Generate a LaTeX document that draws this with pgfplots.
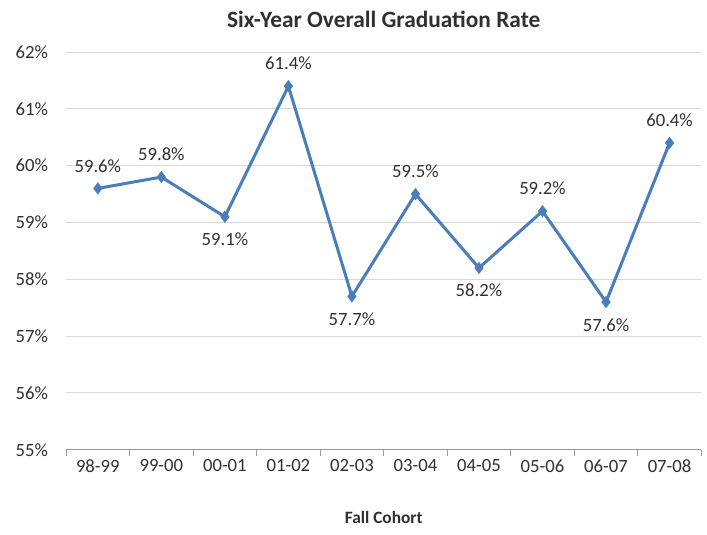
\documentclass[border=0pt]{standalone}
\usepackage{fontspec}
\setmainfont{Carlito}
\usepackage{pgfplots}
\usepackage{pgfplotstable}
\pgfplotsset{compat=1.18}
\definecolor{lineblue}{HTML}{4A7EBB}
\definecolor{gridgray}{HTML}{D9D9D9}
\definecolor{axisgray}{HTML}{9A9A9A}
\definecolor{txt}{HTML}{303030}
\pgfplotstableread{
x y pos
0 59.6 1
1 59.8 1
2 59.1 -1
3 61.4 1
4 57.7 -1
5 59.5 1
6 58.2 -1
7 59.2 1
8 57.6 -1
9 60.4 1
}\grad
\begin{document}
\begin{tikzpicture}
\begin{axis}[
  scale only axis, width=476pt, height=298pt,
  xmin=-0.5, xmax=9.5, ymin=55, ymax=62,
  /pgf/number format/assume math mode=true,
  xtick={0,...,9},
  xticklabels={98-99,99-00,00-01,01-02,02-03,03-04,04-05,05-06,06-07,07-08},
  minor xtick={-0.5,0.5,...,9.5},
  ytick={55,...,62},
  yticklabel={\pgfmathprintnumber{\tick}\%},
  ymajorgrids, major grid style={gridgray, line width=0.75pt},
  axis lines=left,
  x axis line style={axisgray, -, line width=0.75pt},
  y axis line style={draw=none},
  major tick length=0pt, minor tick length=5pt,
  tick align=outside,
  minor tick style={axisgray, line width=0.75pt},
  tick label style={font=\fontsize{14}{16}\selectfont, text=txt},
  yticklabel style={xshift=-10pt},
  xticklabel style={yshift=-4pt},
  xlabel={\textbf{Fall Cohort}},
  xlabel style={font=\fontsize{13}{15}\selectfont, text=txt, yshift=-22pt},
  title={\textbf{Six-Year Overall Graduation Rate}},
  title style={font=\fontsize{17.5}{19}\selectfont, text=txt, yshift=9pt},
  clip=false,
]
\addplot[lineblue, line width=2.25pt, mark=diamond*, mark size=4pt,
  mark options={solid, line width=0.75pt},
  point meta=y,
  visualization depends on={\thisrow{pos} \as \pos},
  nodes near coords={\pgfmathprintnumber[fixed,fixed zerofill,precision=1]{\pgfplotspointmeta}\%},
  every node near coord/.append style={anchor=center, yshift=\pos*17pt, font=\fontsize{14}{16}\selectfont, text=txt},
] table[x=x, y=y] {\grad};
\coordinate (ll) at (rel axis cs:0,0);
\coordinate (ur) at (rel axis cs:1,1);
\end{axis}
\pgfresetboundingbox
\path ([shift={(-49.5pt,-63.75pt)}]ll) rectangle ([shift={(4.25pt,39pt)}]ur);
\end{tikzpicture}
\end{document}
